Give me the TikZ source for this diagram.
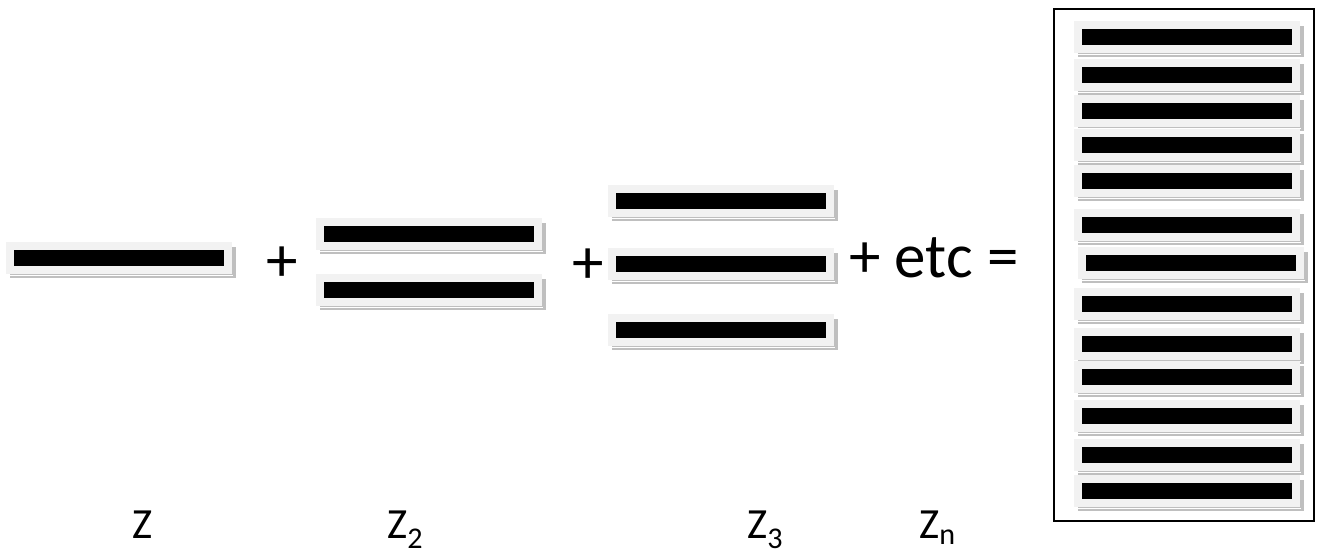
\documentclass[tikz,border=0pt]{standalone}
\usepackage{fontspec}
\setmainfont{Carlito}
\definecolor{panelgrey}{HTML}{F2F2F2}
\definecolor{shadowgrey}{HTML}{BFBFBF}
\newcommand\zslab[3]{%
  \fill[shadowgrey] (#2-4,#3-3) rectangle (#2+222,#3+28);
  \fill[panelgrey] (#2-8,#3-8) rectangle (#2+218,#3+24);
  \draw[white,line width=0.8pt] (#2-6,#3+25) -- (#2+219,#3+25);
  \node[fill=black,inner sep=0pt,minimum width=210pt,minimum height=16pt,anchor=north west] (#1) at (#2,#3) {};
}
\tikzset{
  bigtxt/.style={font=\fontsize{63}{70}\selectfont,inner sep=0pt,anchor=base west},
  lbl/.style={font=\fontsize{43}{50}\selectfont,inner sep=0pt,anchor=base west}
}
\begin{document}
\begin{tikzpicture}[x=1pt,y=-1pt]
\useasboundingbox (0,0) rectangle (1317,555);
% Z
\zslab{a1}{14}{250}
% Z2
\zslab{b1}{324}{226}
\zslab{b2}{324}{282}
% Z3
\zslab{c1}{616}{193}
\zslab{c2}{616}{256}
\zslab{c3}{616}{322}
% plus signs
\node[bigtxt] (p1) at (266,281) {+};
\node[bigtxt] (p2) at (572,283) {+};
\node[bigtxt] (p3) at (849,277) {+ etc =};
% frame
\draw[line width=2pt] (1054,9) rectangle (1314,521);
% stack
\zslab{s1}{1082}{29}
\zslab{s2}{1082}{67}
\zslab{s3}{1082}{103}
\zslab{s4}{1082}{137}
\zslab{s5}{1082}{173}
\zslab{s6}{1082}{217}
\zslab{s7}{1086}{255}
\zslab{s8}{1082}{296}
\zslab{s9}{1082}{336}
\zslab{s10}{1082}{369}
\zslab{s11}{1082}{408}
\zslab{s12}{1082}{447}
\zslab{s13}{1082}{483}
% labels
\node[lbl] (z1) at (132,538) {Z};
\node[lbl] (z2) at (387,538) {Z\textsubscript{2}};
\node[lbl] (z3) at (747,538) {Z\textsubscript{3}};
\node[lbl] (zn) at (919,538) {Z\textsubscript{n}};
\end{tikzpicture}
\end{document}
